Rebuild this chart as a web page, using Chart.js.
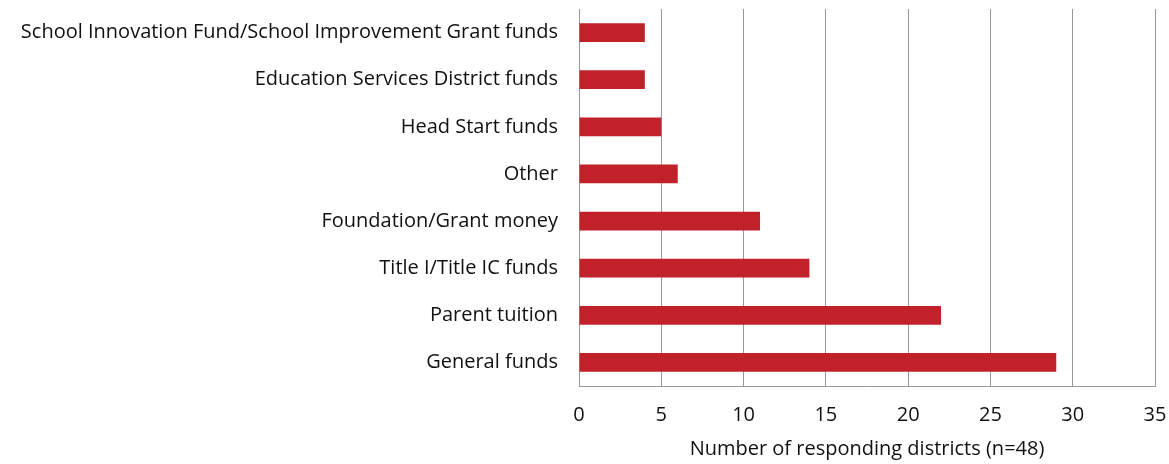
<!DOCTYPE html>
<html><head><meta charset="utf-8">
<script src="https://cdn.jsdelivr.net/npm/chart.js@4"></script>
<style>html,body{margin:0;padding:0;background:#fff}#wrap{width:1169px;height:464px}</style>
</head><body><div id="wrap"><canvas id="c"></canvas></div>
<script>
const categories = ["School Innovation Fund/School Improvement Grant funds","Education Services District funds","Head Start funds","Other","Foundation/Grant money","Title I/Title IC funds","Parent tuition","General funds"];
const values = [4, 4, 5, 6, 11, 14, 22, 29];
const xTicks = [0, 5, 10, 15, 20, 25, 30, 35];
const xTitle = "Number of responding districts (n=48)";
const FONT = "'Open Sans', 'Noto Sans', sans-serif";
new Chart(document.getElementById('c'), {
  type: 'bar',
  data: { labels: categories, datasets: [{ data: values, backgroundColor: '#C1222A', borderWidth: 0, barPercentage: 0.8, categoryPercentage: 0.5 }] },
  options: {
    indexAxis: 'y', responsive: true, maintainAspectRatio: false, animation: false,
    layout: { padding: { top: 9, right: 14, bottom: 0, left: 0 } },
    plugins: { legend: { display: false }, tooltip: { enabled: false } },
    scales: {
      x: {
        min: 0, max: 35,
        afterBuildTicks: (s) => { s.ticks = xTicks.map(v => ({ value: v })); },
        grid: { color: '#999', lineWidth: 1, drawTicks: false },
        border: { color: '#999', width: 1 },
        ticks: { font: { family: FONT, size: 20 }, color: '#111', padding: 17, maxRotation: 0 },
        title: { display: true, text: xTitle, font: { family: FONT, size: 20 }, color: '#111', padding: { top: 0, bottom: 3 } },
        afterFit: (s) => { s.height = 78; s.paddingLeft = 0; s.paddingRight = 0; }
      },
      y: {
        grid: { display: false, drawTicks: false },
        border: { color: '#999', width: 1 },
        ticks: { font: { family: FONT, size: 20 }, color: '#111', padding: 21 },
        afterFit: (s) => { s.width = 579; s.paddingTop = 0; s.paddingBottom = 0; }
      }
    }
  }
});
</script></body></html>
